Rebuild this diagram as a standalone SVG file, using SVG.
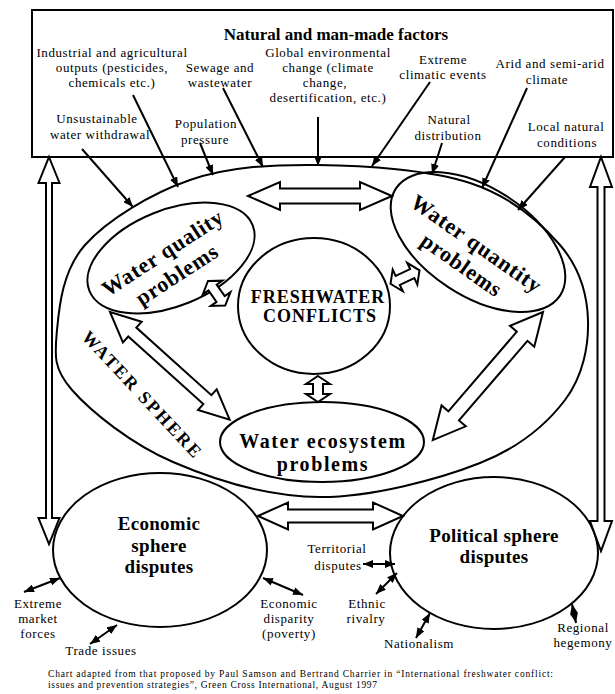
<svg xmlns="http://www.w3.org/2000/svg" width="615" height="694" viewBox="0 0 615 694">
<style>
text{font-family:"Liberation Serif","Times New Roman",serif;fill:#000}
.lbl{font-size:13px;letter-spacing:0.6px;text-anchor:middle}
.big{font-size:22px;font-weight:bold;letter-spacing:0.8px;text-anchor:middle}
.eco{font-size:20px;font-weight:bold;letter-spacing:1.6px;text-anchor:middle}
.mid{font-size:19px;font-weight:bold;letter-spacing:0.3px;text-anchor:middle}
.ln{stroke:#000;stroke-width:2;fill:none}
.sh{stroke:#000;stroke-width:2;fill:none}
.ha{fill:#fff;stroke:#000;stroke-width:2;stroke-linejoin:miter}
.cap{font-size:9.5px}
</style>
<defs>
<marker id="ah" viewBox="0 0 10 8" refX="10" refY="4" markerWidth="10" markerHeight="8" markerUnits="userSpaceOnUse" orient="auto-start-reverse"><path d="M0,0L10,4L0,8z" fill="#000"/></marker>
</defs>
<rect width="615" height="694" fill="#fff"/>

<g id="factors">
<rect x="32" y="10" width="581" height="147" class="sh"/>
<text x="336" y="40" style="font-size:17px;font-weight:bold;text-anchor:middle">Natural and man-made factors</text>
<text class="lbl" x="112" y="57">Industrial and agricultural</text>
<text class="lbl" x="112" y="72">outputs (pesticides,</text>
<text class="lbl" x="112" y="87">chemicals etc.)</text>
<text class="lbl" x="220" y="72">Sewage and</text>
<text class="lbl" x="220" y="87">wastewater</text>
<text class="lbl" x="328" y="57">Global environmental</text>
<text class="lbl" x="328" y="72">change (climate</text>
<text class="lbl" x="325" y="87">change,</text>
<text class="lbl" x="328" y="102">desertification, etc.)</text>
<text class="lbl" x="443" y="64">Extreme</text>
<text class="lbl" x="443" y="79">climatic events</text>
<text class="lbl" x="550" y="68">Arid and semi-arid</text>
<text class="lbl" x="547" y="84">climate</text>
<text class="lbl" x="97" y="123">Unsustainable</text>
<text class="lbl" x="100" y="139">water withdrawal</text>
<text class="lbl" x="206" y="128">Population</text>
<text class="lbl" x="205" y="144">pressure</text>
<text class="lbl" x="449" y="124">Natural</text>
<text class="lbl" x="448" y="140">distribution</text>
<text class="lbl" x="566" y="131">Local natural</text>
<text class="lbl" x="567" y="147">conditions</text>
</g>

<g id="water-sphere">
<path class="sh" d="M318,165 C364.7,165.5 429.7,169.7 470,183 C510.3,196.3 540.3,222.2 560,245 C579.7,267.8 587.2,294.2 588,320 C588.8,345.8 583,376.2 565,400 C547,423.8 520.8,446.8 480,463 C439.2,479.2 371.2,497.2 320,497 C268.8,496.8 214.3,479.8 173,462 C131.7,444.2 91.3,412 72,390 C52.7,368 54.8,354.2 57,330 C59.2,305.8 62.8,270 85,245 C107.2,220 151.2,193.3 190,180 C228.8,166.7 271.3,164.5 318,165 Z"/>
<text x="0" y="0" transform="translate(138,399) rotate(47)" style="font-size:18px;font-weight:bold;letter-spacing:2.2px;text-anchor:middle">WATER SPHERE</text>
</g>

<g id="water-quality">
<ellipse cx="171" cy="258" rx="88" ry="48" transform="rotate(-22 171 258)" class="sh"/>
<g transform="translate(170,264) rotate(-33)">
<text class="big" x="0" y="-6">Water quality</text>
<text class="big" x="0" y="20">problems</text>
</g>
</g>

<g id="water-quantity">
<ellipse cx="478" cy="242" rx="98" ry="54" transform="rotate(33 478 242)" class="sh"/>
<g transform="translate(470,253) rotate(35)">
<text class="big" x="0" y="-4">Water quantity</text>
<text class="big" x="0" y="22">problems</text>
</g>
</g>

<g id="freshwater-conflicts">
<ellipse cx="314" cy="306" rx="76" ry="68" class="sh"/>
<text x="318" y="303" style="font-size:18px;font-weight:bold;letter-spacing:1px;text-anchor:middle">FRESHWATER</text>
<text x="320" y="322" style="font-size:18px;font-weight:bold;letter-spacing:1px;text-anchor:middle">CONFLICTS</text>
</g>

<g id="water-ecosystem">
<ellipse cx="322" cy="442" rx="102" ry="40" class="sh"/>
<text class="eco" x="323" y="448">Water ecosystem</text>
<text class="eco" x="323" y="471">problems</text>
</g>

<g id="economic">
<ellipse cx="160" cy="550" rx="107" ry="77" class="sh"/>
<text class="mid" x="159" y="530">Economic</text>
<text class="mid" x="159" y="552">sphere</text>
<text class="mid" x="159" y="573">disputes</text>
<text class="lbl" x="38" y="608">Extreme</text>
<text class="lbl" x="38" y="623">market</text>
<text class="lbl" x="38" y="638">forces</text>
<text class="lbl" x="101" y="655">Trade issues</text>
<text class="lbl" x="289" y="608">Economic</text>
<text class="lbl" x="289" y="623">disparity</text>
<text class="lbl" x="289" y="638">(poverty)</text>
</g>

<g id="political">
<ellipse cx="494" cy="553" rx="104" ry="76" class="sh"/>
<text class="mid" x="494" y="542">Political sphere</text>
<text class="mid" x="494" y="563">disputes</text>
<text class="lbl" x="337" y="553">Territorial</text>
<text class="lbl" x="338" y="570">disputes</text>
<text class="lbl" x="367" y="608">Ethnic</text>
<text class="lbl" x="366" y="623">rivalry</text>
<text class="lbl" x="419" y="648">Nationalism</text>
<text class="lbl" x="583" y="632">Regional</text>
<text class="lbl" x="583" y="647">hegemony</text>
</g>

<g id="connectors">
<line class="ln" x1="82" y1="149" x2="133" y2="207" marker-end="url(#ah)"/>
<line class="ln" x1="133" y1="95" x2="178" y2="187" marker-end="url(#ah)"/>
<line class="ln" x1="200" y1="143" x2="213" y2="175" marker-end="url(#ah)"/>
<line class="ln" x1="223" y1="88" x2="263" y2="167" marker-end="url(#ah)"/>
<line class="ln" x1="318" y1="117" x2="318" y2="166" marker-end="url(#ah)"/>
<line class="ln" x1="430" y1="82" x2="372" y2="166" marker-end="url(#ah)"/>
<line class="ln" x1="442" y1="143" x2="432" y2="174" marker-end="url(#ah)"/>
<line class="ln" x1="527" y1="88" x2="482" y2="188" marker-end="url(#ah)"/>
<line class="ln" x1="565" y1="157" x2="518" y2="210" marker-end="url(#ah)"/>

<line class="ln" x1="60" y1="578" x2="24" y2="592" marker-start="url(#ah)" marker-end="url(#ah)"/>
<line class="ln" x1="117" y1="625" x2="90" y2="644" marker-start="url(#ah)" marker-end="url(#ah)"/>
<line class="ln" x1="263" y1="578" x2="303" y2="595" marker-start="url(#ah)" marker-end="url(#ah)"/>
<line class="ln" x1="395" y1="564" x2="363" y2="564" marker-start="url(#ah)" marker-end="url(#ah)"/>
<line class="ln" x1="397" y1="573" x2="376" y2="594" marker-start="url(#ah)" marker-end="url(#ah)"/>
<line class="ln" x1="430" y1="613" x2="416" y2="638" marker-start="url(#ah)" marker-end="url(#ah)"/>
<line class="ln" x1="572" y1="604" x2="576" y2="623" marker-start="url(#ah)" marker-end="url(#ah)"/>

<polygon class="ha" transform="translate(248,196)" points="0,0 32,-14 32,-7.5 112,-7.5 112,-14 144,0 112,14 112,7.5 32,7.5 32,14"/>
<polygon class="ha" transform="translate(258,516)" points="0,0 30,-13.5 30,-6.5 115,-6.5 115,-13.5 145,0 115,13.5 115,6.5 30,6.5 30,13.5"/>
<polygon class="ha" transform="translate(49,157) rotate(90)" points="0,0 26,-10.5 26,-3 361,-3 361,-10.5 387,0 361,10.5 361,3 26,3 26,10.5"/>
<polygon class="ha" transform="translate(601,157) rotate(90)" points="0,0 30,-11 30,-3.5 364,-3.5 364,-11 394,0 364,11 364,3.5 30,3.5 30,11"/>
<polygon class="ha" transform="translate(110,312) rotate(42)" points="0,0 30,-14 30,-6 131,-6 131,-14 161,0 131,14 131,6 30,6 30,14"/>
<polygon class="ha" transform="translate(543,312) rotate(130.7)" points="0,0 32,-16 32,-7 137,-7 137,-16 169,0 137,16 137,7 32,7 32,16"/>
<polygon class="ha" transform="translate(318,376) rotate(90)" points="0,0 8,-12 8,-5 18,-5 18,-12 26,0 18,12 18,5 8,5 8,12"/>
<polygon class="ha" transform="translate(390.5,283.8) rotate(-25)" points="0,0 8,-12 8,-5 24,-5 24,-12 32,0 24,12 24,5 8,5 8,12"/>
<polygon class="ha" transform="translate(208,281) rotate(55)" points="0,0 8,-12 8,-5 22,-5 22,-12 30,0 22,12 22,5 8,5 8,12"/>
</g>

<g id="caption">
<text class="cap" x="48" y="677" textLength="505" lengthAdjust="spacing">Chart adapted from that proposed by Paul Samson and Bertrand Charrier in “International freshwater conflict:</text>
<text class="cap" x="48" y="688" textLength="329" lengthAdjust="spacing">issues and prevention strategies”, Green Cross International, August 1997</text>
</g>
</svg>
